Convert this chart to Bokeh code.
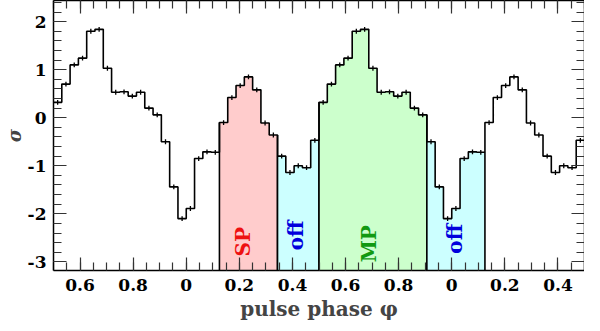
import numpy as np
from bokeh.plotting import figure
from bokeh.models import Range1d, LinearAxis, FixedTicker
from bokeh.core.properties import value
from bokeh.embed import file_html
from bokeh.resources import INLINE

# ---- data -------------------------------------------------------------
n_bins = 32  # bins per pulse cycle
sigma = [-1.89, -0.85, -0.71, -0.72, -0.10, 0.42, 0.67, 0.85,
         0.58, -0.11, -0.36, -0.80, -1.14, -1.00, -1.04, -0.47,
         0.32, 0.70, 1.10, 1.24, 1.80, 1.84, 1.03, 0.53,
         0.54, 0.45, 0.53, 0.20, 0.06, -0.50, -1.44, -2.10]
sigma_err = [0.05, 0.05, 0.05, 0.05, 0.05, 0.05, 0.05, 0.05,
             0.05, 0.05, 0.05, 0.05, 0.05, 0.05, 0.05, 0.05,
             0.05, 0.05, 0.05, 0.05, 0.05, 0.05, 0.05, 0.05,
             0.05, 0.05, 0.05, 0.05, 0.05, 0.05, 0.05, 0.05]
phase_start, phase_end = 0.5, 2.5
x_ticks = [0.6, 0.8, 1.0, 1.2, 1.4, 1.6, 1.8, 2.0, 2.2, 2.4]
x_tick_labels = ["0.6", "0.8", "0", "0.2", "0.4", "0.6", "0.8", "0", "0.2", "0.4"]
y_ticks = [-3, -2, -1, 0, 1, 2]
y_tick_labels = ["-3", "-2", "-1", "0", "1", "2"]

region_names = ["SP", "off", "MP", "off"]
region_start = [1.125, 1.34375, 1.5, 1.90625]
region_end = [1.34375, 1.5, 1.90625, 2.125]
region_fill = ["#ffcccc", "#ccffff", "#ccffcc", "#ccffff"]
region_text = ["#ee1111", "#0000dd", "#119911", "#0000dd"]
label_x = [1.212, 1.414, 1.687, 2.014]
label_y = [-2.89, -2.76, -3.01, -2.83]

# ---- figure -----------------------------------------------------------
Y0, Y1 = -3.18, 2.44
p = figure(width=584, height=323, x_range=Range1d(phase_start, phase_end),
           y_range=Range1d(Y0, Y1), output_backend="svg", toolbar_location=None,
           min_border_left=40, min_border_right=0, min_border_top=0,
           min_border_bottom=40, x_axis_location=None, y_axis_location=None)
p.grid.visible = False
p.outline_line_color = None
p.background_fill_color = "white"
p.border_fill_color = "white"

j = np.arange(int(round(phase_start * n_bins)), int(round(phase_end * n_bins)))
left = j / n_bins
right = (j + 1) / n_bins
vals = np.array(sigma)[j % n_bins]
errs = np.array(sigma_err)[j % n_bins]
centers = (left + right) / 2

# shaded phase regions
for s, e, fc in zip(region_start, region_end, region_fill):
    m = (left >= s - 1e-9) & (right <= e + 1e-9)
    xs = np.append(left[m], right[m][-1])
    ys = np.append(vals[m], vals[m][-1])
    p.varea_step(x=xs, y1=np.full(len(xs), Y0 - 1), y2=ys, step_mode="after",
                 fill_color=fc, fill_alpha=1.0)
    p.segment(x0=[s, e], y0=[Y0 - 1, Y0 - 1], x1=[s, e], y1=[vals[m][0], vals[m][-1]],
              line_color="black", line_width=1.6)

# histogram
step_x = np.append(left, right[-1])
step_y = np.append(vals, vals[-1])
p.step(step_x, step_y, mode="after", line_color="black", line_width=1.6)
p.segment(x0=centers, y0=vals - errs, x1=centers, y1=vals + errs,
          line_color="black", line_width=1.3)

# region labels
for name, lx, ly, tc in zip(region_names, label_x, label_y, region_text):
    p.text(x=[lx], y=[ly], text=[name], angle=np.pi / 2, text_color=tc,
           text_font=value("DejaVu Serif"), text_font_style="bold",
           text_font_size="20px", text_align="left", text_baseline="middle")

# ---- axes -------------------------------------------------------------
x_minor = list(np.round(np.arange(phase_start, phase_end + 1e-9, 0.05), 3))
y_minor = list(np.round(np.arange(-3.2, 2.41, 0.2), 3))
xt = FixedTicker(ticks=x_ticks, minor_ticks=x_minor)
yt = FixedTicker(ticks=y_ticks, minor_ticks=y_minor)


def style(ax, show_labels, ticks):
    ax.axis_line_color = "black"
    ax.axis_line_width = 1.5
    ax.major_tick_in = 13
    ax.major_tick_out = 0
    ax.minor_tick_in = 8
    ax.minor_tick_out = 0
    ax.major_tick_line_color = "#333333"
    ax.minor_tick_line_color = "#333333"
    ax.major_tick_line_width = 1.2
    ax.minor_tick_line_width = 1.2
    if show_labels:
        ax.major_label_text_font = "DejaVu Serif"
        ax.major_label_text_font_style = "bold"
        ax.major_label_text_font_size = "17px"
        ax.major_label_text_color = "black"
    else:
        ax.major_label_overrides = {t: "" for t in ticks}
        ax.major_label_text_font_size = "1px"
        ax.major_label_standoff = 0
        ax.axis_label_standoff = 0


xb = LinearAxis(ticker=xt, major_label_overrides=dict(zip(x_ticks, x_tick_labels)))
style(xb, True, x_ticks)
xb.major_label_standoff = 8
xb.axis_label = "pulse phase φ"
xb.axis_label_text_font = "DejaVu Serif"
xb.axis_label_text_font_style = "bold"
xb.axis_label_text_font_size = "20px"
xb.axis_label_standoff = 3
p.add_layout(xb, "below")

yl = LinearAxis(ticker=yt, major_label_overrides=dict(zip(y_ticks, y_tick_labels)))
style(yl, True, y_ticks)
yl.major_label_standoff = 7
yl.axis_label = "σ"
yl.axis_label_text_font = "DejaVu Serif"
yl.axis_label_text_font_style = "bold italic"
yl.axis_label_text_font_size = "18px"
yl.axis_label_standoff = 0
p.add_layout(yl, "left")

xa = LinearAxis(ticker=xt)
style(xa, False, x_ticks)
p.add_layout(xa, "above")

yr = LinearAxis(ticker=yt)
style(yr, False, y_ticks)
p.add_layout(yr, "right")

open("out.html", "w").write(file_html(p, INLINE))
